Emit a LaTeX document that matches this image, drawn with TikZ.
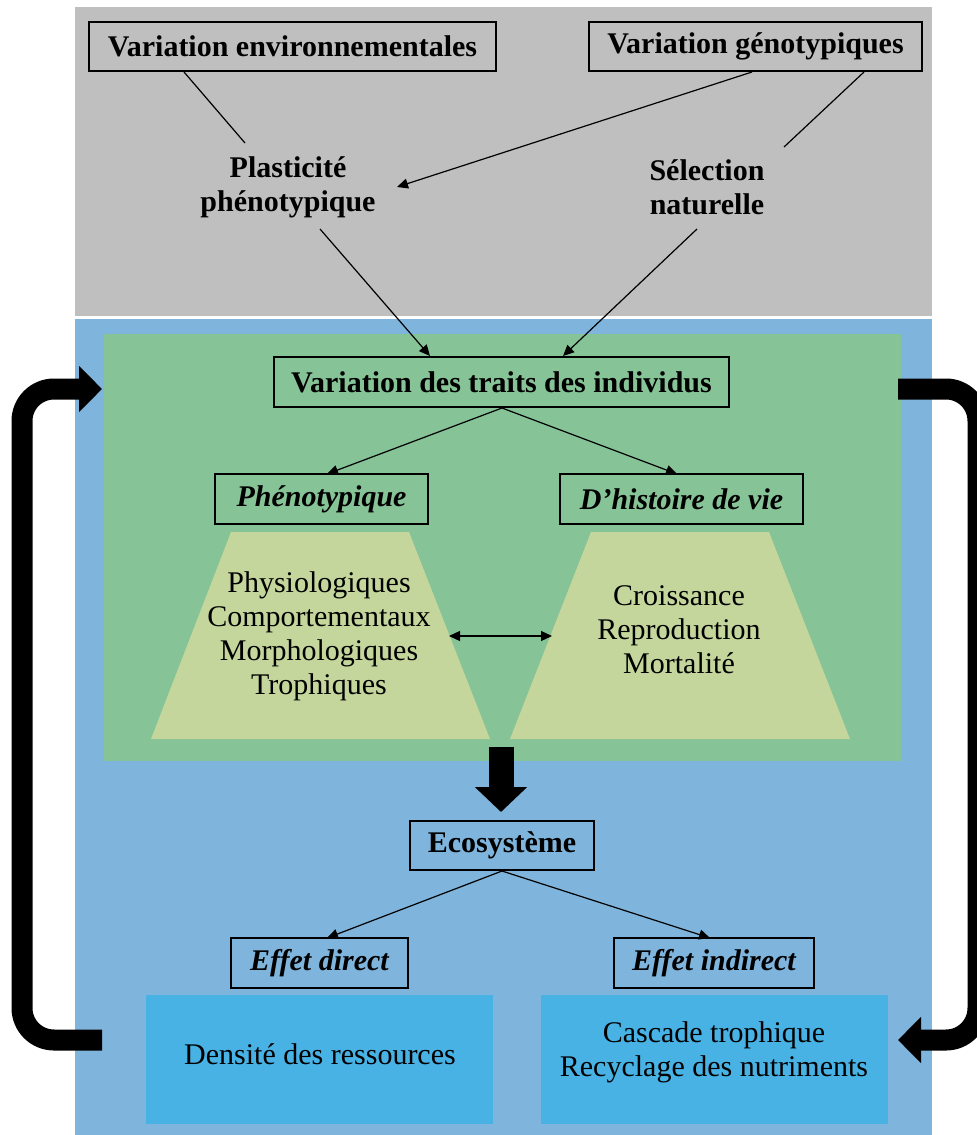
\documentclass[tikz,border=0pt]{standalone}
\usepackage{fontspec}
\setmainfont{Liberation Serif}
\usetikzlibrary{arrows.meta}
\definecolor{graybg}{HTML}{BFBFBF}
\definecolor{bluebg}{HTML}{7FB5DD}
\definecolor{greenbg}{HTML}{86C397}
\definecolor{trapcol}{HTML}{C4D69B}
\definecolor{boxblue}{HTML}{49B2E5}
\begin{document}
\begin{tikzpicture}[x=1pt,y=-1pt,
  txt/.style={font=\fontsize{30}{34}\selectfont, align=center, inner sep=0pt},
  btxt/.style={txt, font=\fontsize{30}{34}\selectfont\bfseries},
  tbox/.style={draw=black, line width=1.3pt, btxt},
  ibox/.style={tbox, font=\fontsize{30}{34}\selectfont\bfseries\itshape},
  thinline/.style={line width=1.2pt},
  tarrow/.style={thinline, -{Triangle[length=11pt,width=10pt]}},
  darrow/.style={thinline, {Triangle[length=11pt,width=10pt]}-{Triangle[length=11pt,width=10pt]}},
  fatloop/.style={line width=21pt, rounded corners=32pt, -{Triangle[length=23pt,width=45pt]}},
  fatdown/.style={line width=25pt, -{Triangle[length=25pt,width=51pt]}}
]
\useasboundingbox (0,0) rectangle (977,1135);
\clip (0,0) rectangle (977,1135);
% backgrounds
\fill[graybg] (75,7) rectangle (932,316);
\fill[bluebg] (75,319) rectangle (932,1135);
\fill[greenbg] (104,334) rectangle (901,761);
% trapezoids
\fill[trapcol] (231,532) -- (409,532) -- (490,739) -- (151,739) -- cycle;
\fill[trapcol] (591,532) -- (769,532) -- (850,739) -- (510,739) -- cycle;
% light blue boxes
\node[fill=boxblue, minimum width=347pt, minimum height=129pt, inner sep=0pt] (bdir) at (319.5,1059.5) {};
\node[fill=boxblue, minimum width=347pt, minimum height=129pt, inner sep=0pt] (bind) at (714.5,1059.5) {};

% top boxes
\node[tbox, minimum width=407pt, minimum height=49pt] (env) at (292.5,46.5) {Variation environnementales};
\node[tbox, minimum width=333pt, minimum height=49pt] (gen) at (755.5,46.5) {Variation génotypiques};
\node[btxt] (plast) at (288,187) {Plasticité\\phénotypique};
\node[btxt] (sel) at (707,187) {Sélection\\naturelle};

% main box
\node[tbox, minimum width=455pt, minimum height=50pt] (trait) at (501.5,382) {Variation des traits des individus};
\node[ibox, minimum width=213pt, minimum height=50pt] (pheno) at (321.5,499) {Phénotypique};
\node[ibox, minimum width=243pt, minimum height=50pt] (hist) at (681.5,499) {D’histoire de vie};
\node[txt] (ltxt) at (319,636) {Physiologiques\\Comportementaux\\Morphologiques\\Trophiques};
\node[txt] (rtxt) at (679,630) {Croissance\\Reproduction\\Mortalité};

% ecosystem
\node[tbox, minimum width=184pt, minimum height=49pt] (eco) at (502,845.5) {Ecosystème};
\node[ibox, minimum width=177pt, minimum height=50pt] (edir) at (319.5,963) {Effet direct};
\node[ibox, minimum width=200pt, minimum height=50pt] (eind) at (714,963) {Effet indirect};
\node[txt] (dtxt) at (320,1054) {Densité des ressources};
\node[txt] (itxt) at (714,1052) {Cascade trophique\\Recyclage des nutriments};

% coordinates for free line ends
\coordinate (e1) at (184,72);
\coordinate (e2) at (245,143);
\coordinate (g1) at (752,72);
\coordinate (g2) at (397,187);
\coordinate (g3) at (864,72);
\coordinate (g4) at (784,147);
\coordinate (p1) at (320,229);
\coordinate (p2) at (430,356);
\coordinate (s1) at (697,229);
\coordinate (s2) at (563,356);
\coordinate (t0) at (502,408);
\coordinate (t1) at (327,474);
\coordinate (t2) at (677,474);
\coordinate (m1) at (449,636);
\coordinate (m2) at (552,636);
\coordinate (f1) at (501,747);
\coordinate (f2) at (501,812);
\coordinate (c0) at (502,871);
\coordinate (c1) at (327,938);
\coordinate (c2) at (710,938);
\coordinate (l1) at (102,1040);
\coordinate (l2) at (22,1040);
\coordinate (l3) at (22,389);
\coordinate (l4) at (102,389);
\coordinate (r1) at (898,389);
\coordinate (r2) at (978,389);
\coordinate (r3) at (978,1040);
\coordinate (r4) at (898,1040);

% connectors
\draw[thinline] (e1) -- (e2);
\draw[tarrow] (g1) -- (g2);
\draw[thinline] (g3) -- (g4);
\draw[tarrow] (p1) -- (p2);
\draw[tarrow] (s1) -- (s2);
\draw[tarrow] (t0) -- (t1);
\draw[tarrow] (t0) -- (t2);
\draw[darrow] (m1) -- (m2);
\draw[fatdown] (f1) -- (f2);
\draw[tarrow] (c0) -- (c1);
\draw[tarrow] (c0) -- (c2);
\draw[fatloop] (l1) -- (l2) -- (l3) -- (l4);
\draw[fatloop] (r1) -- (r2) -- (r3) -- (r4);
\end{tikzpicture}
\end{document}
